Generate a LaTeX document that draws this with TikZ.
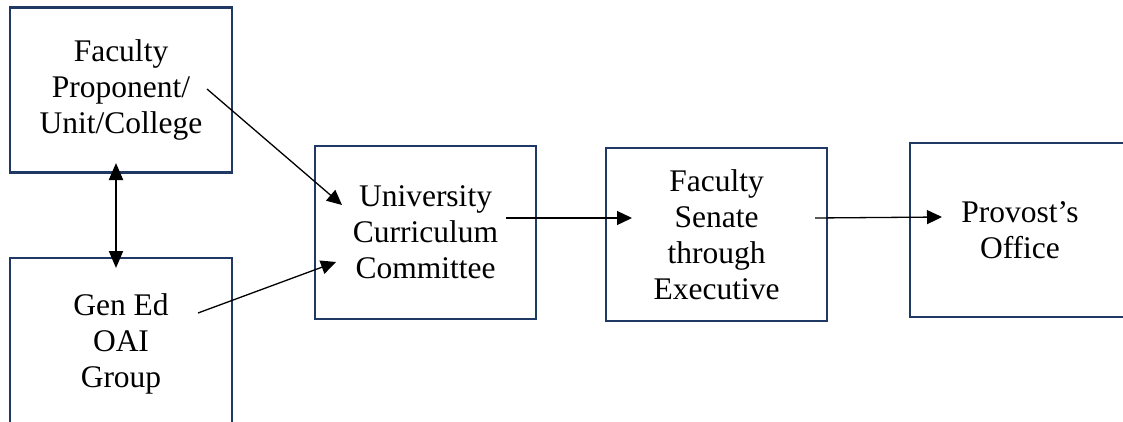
\documentclass[tikz,border=0pt]{standalone}
\usepackage{fontspec}
\setmainfont{Liberation Serif}
\usepackage[]{xcolor}
\usetikzlibrary{arrows.meta}
\definecolor{boxnavy}{HTML}{1F3864}

\begin{document}
\begin{tikzpicture}[x=1pt,y=-1pt,
    box/.style={draw=boxnavy, line width=2.6pt, align=center, inner sep=0pt,
                font=\fontsize{31.5}{36}\selectfont},
    flow/.style={-{Triangle[length=15pt,width=14pt]}, line width=1.3pt}]
    \useasboundingbox (0,0) rectangle (1123,422);
    \node (fac) [box, minimum width=222pt, minimum height=165pt] at (121,90) {Faculty\\Proponent/\\Unit/College};
    \node (gen) [box, minimum width=222pt, minimum height=172pt] at (121,344) {Gen Ed\\OAI\\Group};
    \node (ucc) [box, minimum width=221pt, minimum height=173pt] at (425.5,232.5) {University\\Curriculum\\Committee};
    \node (sen) [box, minimum width=221pt, minimum height=173pt] at (716.5,234.5) {Faculty\\Senate\\through\\Executive};
    \node (pro) [box, minimum width=220pt, minimum height=174pt] at (1020,230) {Provost's\\Office};
    \coordinate (facout) at (207,89);
    \coordinate (uccin1) at (342,205);
    \coordinate (genout) at (198,313);
    \coordinate (uccin2) at (336,262);
    \coordinate (uccout) at (506,218);
    \coordinate (senin)  at (632,218);
    \coordinate (senout) at (815,218);
    \coordinate (proin)  at (942,217);
    \coordinate (facdn)  at (116,163);
    \coordinate (genup)  at (116,268);
    \draw[flow] (facout) -- (uccin1);
    \draw[flow] (genout) -- (uccin2);
    \draw[flow] (uccout) -- (senin);
    \draw[flow] (senout) -- (proin);
    \draw[{Triangle[length=17pt,width=14pt]}-{Triangle[length=17pt,width=14pt]}, line width=2pt] (facdn) -- (genup);
\end{tikzpicture}
\end{document}
